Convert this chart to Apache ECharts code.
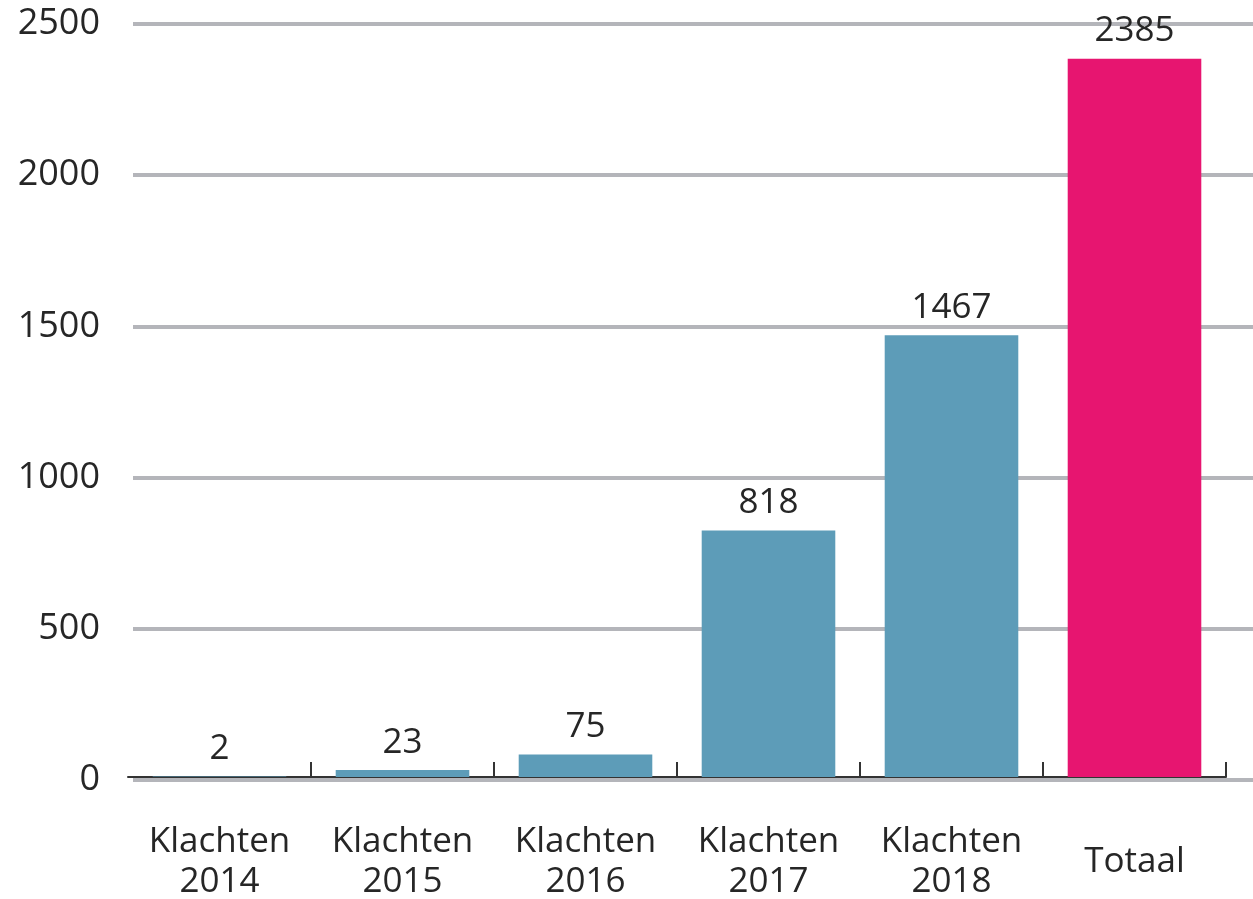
<!DOCTYPE html>
<html>
<head>
<meta charset="utf-8">
<script src="https://cdn.jsdelivr.net/npm/echarts@6/dist/echarts.min.js"></script>
<style>
  html, body { margin: 0; padding: 0; background: #fff; }
  #chart { width: 1253px; height: 899px; }
</style>
</head>
<body>
<div id="chart"></div>
<script>
// Klachten per jaar en het totaal
const categories = ['Klachten\n2014', 'Klachten\n2015', 'Klachten\n2016', 'Klachten\n2017', 'Klachten\n2018', 'Totaal'];
const values = [2, 23, 75, 818, 1467, 2385];
const yTicks = [0, 500, 1000, 1500, 2000, 2500];

const BLUE = '#5d9cb8';
const PINK = '#e71570';
const TEXT = '#262626';
const FONT = '"Open Sans", "Noto Sans", sans-serif';
const WEIGHT = 500;

const chart = echarts.init(document.getElementById('chart'), null, { renderer: 'canvas' });

const yMin = yTicks[0];
const yMax = yTicks[yTicks.length - 1];
const yStep = yTicks[1] - yTicks[0];

chart.setOption({
  animation: false,
  backgroundColor: '#ffffff',
  grid: [
    // gridlines and value labels
    { left: 133, right: 0, top: 24, bottom: 119, containLabel: false, outerBoundsMode: 'none' },
    // bars and category axis
    { left: 128, right: 27, top: 24, bottom: 122, containLabel: false, outerBoundsMode: 'none' }
  ],
  xAxis: [
    { gridIndex: 0, type: 'category', data: categories, show: false },
    {
      gridIndex: 1,
      type: 'category',
      data: categories,
      axisLine: { show: true, lineStyle: { color: '#333333', width: 2 } },
      axisTick: {
        show: true,
        inside: true,
        length: 15,
        lineStyle: { color: '#333333', width: 2 },
        interval: (i) => i !== 0
      },
      axisLabel: {
        color: TEXT,
        fontFamily: FONT,
        fontWeight: WEIGHT,
        fontSize: 35,
        lineHeight: 40,
        margin: 85,
        verticalAlign: 'middle',
        interval: 0
      }
    }
  ],
  yAxis: [
    {
      gridIndex: 0,
      type: 'value',
      min: yMin,
      max: yMax,
      interval: yStep,
      axisLine: { show: false },
      axisTick: { show: false },
      axisLabel: {
        color: TEXT,
        fontFamily: FONT,
        fontWeight: WEIGHT,
        fontSize: 36,
        margin: 33,
        formatter: (v) => String(v)
      },
      splitLine: { show: true, lineStyle: { color: '#b4b5ba', width: 4 } }
    },
    {
      gridIndex: 1,
      type: 'value',
      min: yMin,
      max: yMax,
      interval: yStep,
      show: false,
      splitLine: { show: false }
    }
  ],
  series: [
    {
      type: 'bar',
      xAxisIndex: 1,
      yAxisIndex: 1,
      barWidth: '73%',
      data: values.map((v, i) => ({
        value: v,
        itemStyle: { color: i === values.length - 1 ? PINK : BLUE }
      })),
      label: {
        show: true,
        position: 'top',
        distance: 10,
        color: TEXT,
        fontFamily: FONT,
        fontWeight: WEIGHT,
        fontSize: 35
      }
    }
  ]
});
</script>
</body>
</html>
